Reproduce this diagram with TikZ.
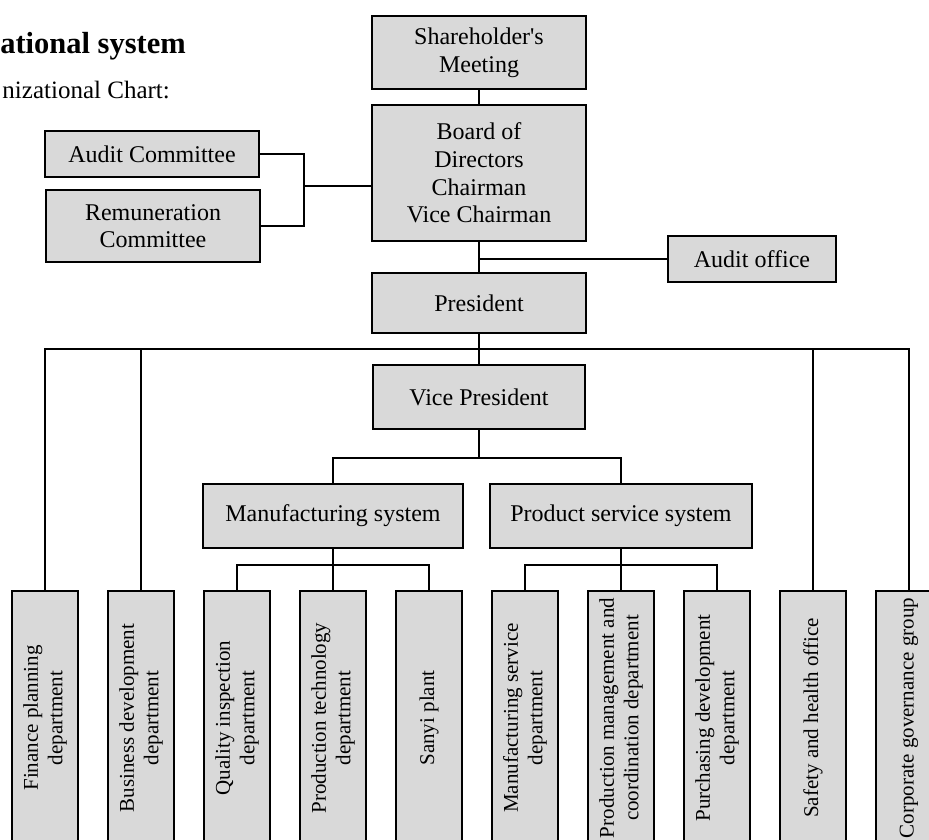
\documentclass[tikz,border=0pt]{standalone}
\usepackage{fontspec}
\setmainfont{Liberation Serif}
\definecolor{boxgray}{HTML}{D9D9D9}
\begin{document}
\begin{tikzpicture}[x=1pt,y=-1pt,
  box/.style={draw=black, line width=2pt, fill=boxgray, inner sep=0pt, align=center, font=\fontsize{24}{27.6}\selectfont},
  vbox/.style={box, rotate=90, minimum width=254pt, minimum height=66pt, font=\fontsize{21}{24.5}\selectfont},
  link/.style={line width=2pt, draw=black},
  plain/.style={inner sep=0pt, anchor=base east}]
\useasboundingbox (0,0) rectangle (929,840);
\clip (0,0) rectangle (929,840);

% heading
\node[plain, font=\fontsize{30.5}{36}\selectfont\bfseries] (title) at (186,54) {ational system};
\node[plain, font=\fontsize{25}{30}\selectfont] (subtitle) at (170,99) {nizational Chart:};

% upper hierarchy
\node[box, minimum width=214pt, minimum height=73pt] (share) at (479,52.5) {Shareholder\textquotesingle s\\Meeting};
\node[box, minimum width=214pt, minimum height=136pt] (board) at (479,173) {Board of\\Directors\\Chairman\\Vice Chairman};
\node[box, minimum width=214pt, minimum height=46pt] (audit) at (152,154) {Audit Committee};
\node[box, minimum width=214pt, minimum height=72pt] (remu) at (153,226) {Remuneration\\Committee};
\node[box, minimum width=168pt, minimum height=46pt] (aoffice) at (752,259) {Audit office};
\node[box, minimum width=214pt, minimum height=60pt] (pres) at (479,303) {President};
\node[box, minimum width=212pt, minimum height=64pt] (vp) at (479,397) {Vice President};
\node[box, minimum width=260pt, minimum height=64pt] (mfg) at (333,516) {Manufacturing system};
\node[box, minimum width=262pt, minimum height=64pt] (pss) at (621,516) {Product service system};

% bottom departments
\node[vbox] (b1) at (45,718) {Finance planning\\department};
\node[vbox] (b2) at (141,718) {Business development\\department};
\node[vbox] (b3) at (237,718) {Quality inspection\\department};
\node[vbox] (b4) at (333,718) {Production technology\\department};
\node[vbox] (b5) at (429,718) {Sanyi plant};
\node[vbox] (b6) at (525,718) {Manufacturing service\\department};
\node[vbox] (b7) at (621,718) {Production management and\\coordination department};
\node[vbox] (b8) at (717,718) {Purchasing development\\department};
\node[vbox] (b9) at (813,718) {Safety and health office};
\node[vbox] (b10) at (909,718) {Corporate governance group};

% junction points
\coordinate (br) at (304,186);
\coordinate (bus) at (479,349);
\coordinate (vs) at (479,458);
\coordinate (ms) at (333,565);
\coordinate (ps) at (621,565);

% connectors
\draw[link] (share) -- (board);
\draw[link] (board) -- (pres);
\draw[link] (aoffice.west) -- (aoffice.west -| board.south);
\draw[link] (audit.east) -| (br) |- (remu.east);
\draw[link] (br) -- (br -| board.west);
\draw[link] (pres) -- (vp);
\draw[link] (b1.east) -- (b1.east |- bus) -- (b10.east |- bus) -- (b10.east);
\draw[link] (b2.east) -- (b2.east |- bus);
\draw[link] (b9.east) -- (b9.east |- bus);
\draw[link] (vp) -- (vs);
\draw[link] (mfg.north) |- (vs) -| (pss.north);
\draw[link] (mfg.south) -- (b4.east);
\draw[link] (b3.east) |- (ms) -| (b5.east);
\draw[link] (pss.south) -- (b7.east);
\draw[link] (b6.east) |- (ps) -| (b8.east);
\end{tikzpicture}
\end{document}
